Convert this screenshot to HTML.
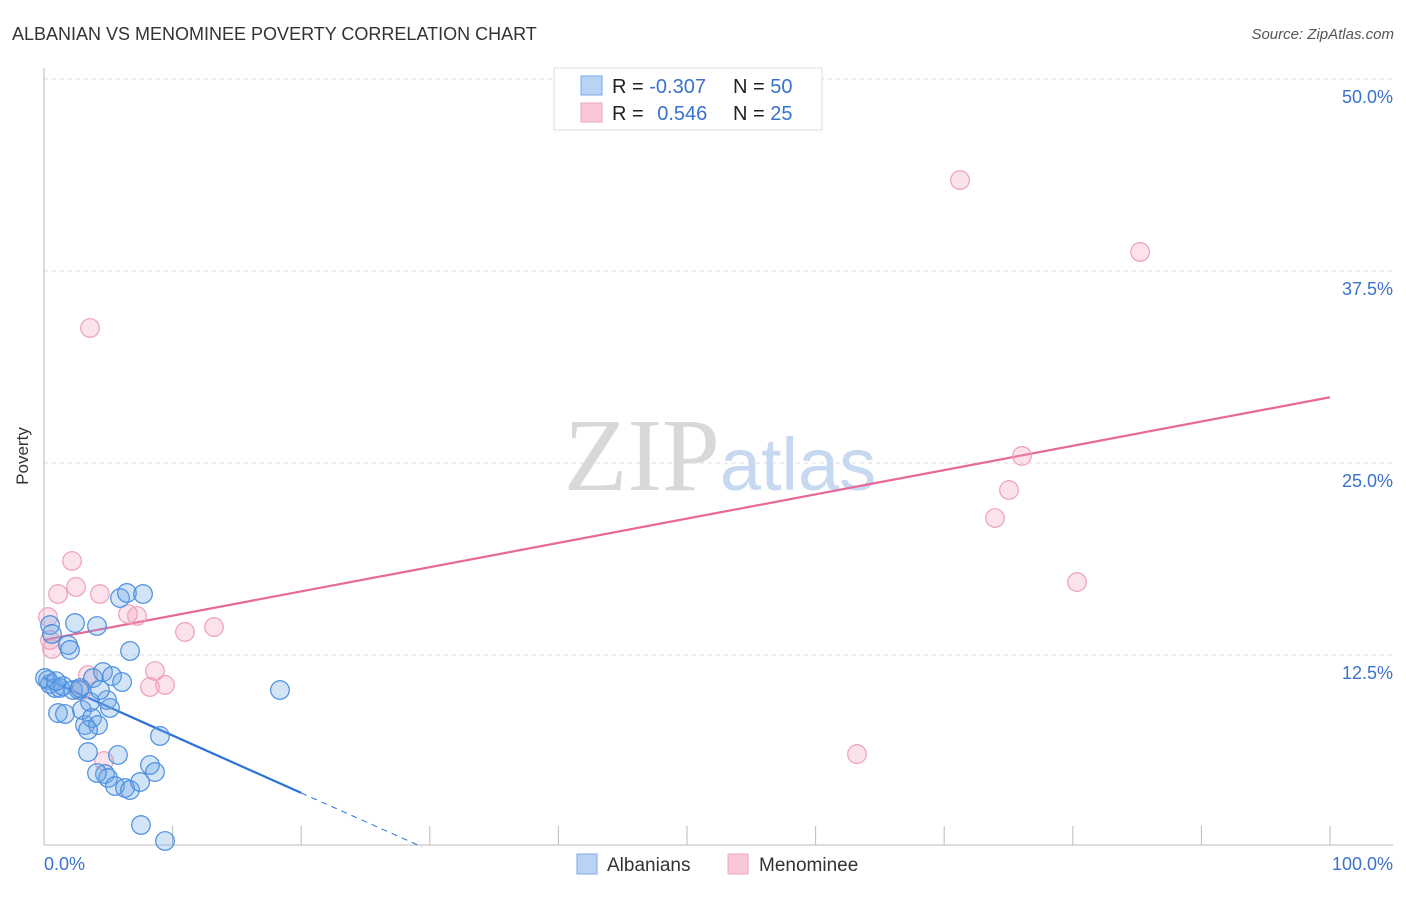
<!DOCTYPE html>
<html><head><meta charset="utf-8"><style>
body{margin:0;background:#fff;font-family:"Liberation Sans",sans-serif;}
svg text{font-family:"Liberation Sans",sans-serif;}
</style></head><body>
<svg width="1406" height="892" xmlns="http://www.w3.org/2000/svg" id="chart">
<text x="12" y="40" font-size="18" fill="#333">ALBANIAN VS MENOMINEE POVERTY CORRELATION CHART</text>
<text x="1394" y="39" font-size="15" fill="#555" font-style="italic" text-anchor="end">Source: ZipAtlas.com</text>
<text x="28" y="456" font-size="17" fill="#333" transform="rotate(-90 28 456)" text-anchor="middle">Poverty</text>
<g id="grid"></g>
<g id="axes"></g>
<text x="720" y="490" font-size="104" fill="#ddd" text-anchor="middle" font-family="Liberation Serif"><tspan fill="#d8d8d8" font-family="Liberation Serif">ZIP</tspan><tspan fill="#c6d9f0" font-size="74" font-family="Liberation Sans">atlas</tspan></text>
<g id="lines"></g>
<g id="points"></g>
<g>
<rect x="554" y="68" width="268" height="62" fill="#fff" stroke="#ddd"/>
<rect x="581" y="76" width="21" height="19" fill="#b9d3f5" stroke="#7aaae8"/>
<rect x="581" y="103" width="21" height="19" fill="#f9c7d6" stroke="#eea5bd"/>
<text x="612" y="93" font-size="20" fill="#222">R = <tspan fill="#3a72cc">-0.307</tspan></text>
<text x="733" y="93" font-size="20" fill="#222">N = <tspan fill="#3a72cc">50</tspan></text>
<text x="612" y="120" font-size="20" fill="#222">R = <tspan fill="#3a72cc" dx="8">0.546</tspan></text>
<text x="733" y="120" font-size="20" fill="#222">N = <tspan fill="#3a72cc">25</tspan></text>
</g>
<g>
<rect x="577" y="854" width="20" height="20" fill="#b9d3f5" stroke="#7aaae8"/>
<text x="607" y="871" font-size="19" fill="#333">Albanians</text>
<rect x="728" y="854" width="20" height="20" fill="#f9c7d6" stroke="#eea5bd"/>
<text x="759" y="871" font-size="19" fill="#333">Menominee</text>
</g>
</svg>
<script>
const yTicks=[12.5,25,37.5,50];
const yTickLabels=["12.5%","25.0%","37.5%","50.0%"];
const xTicks=[0,10,20,30,40,50,60,70,80,90,100];
const blueX=[0.47,0.62,0.31,0.86,0.47,1.24,1.09,1.63,1.48,1.87,2.02,2.41,2.26,2.72,2.95,3.19,3.58,3.81,3.73,4.12,4.2,4.59,4.74,4.98,5.29,4.9,5.13,5.52,5.75,5.91,6.07,6.3,6.45,6.69,6.69,7.47,7.7,8.24,8.63,9.02,7.54,9.41,18.35,3.42,4.12,2.8,4.35,3.42,0.08,0.93];
const blueY=[14.45,13.87,10.87,10.35,10.61,10.35,8.72,8.66,10.48,13.15,12.83,14.58,10.22,10.22,8.92,7.94,9.44,11.0,8.4,14.39,7.94,11.39,4.75,4.49,11.13,9.57,9.05,3.97,5.99,16.21,10.74,3.84,16.54,12.76,3.71,4.23,16.47,5.34,4.88,7.23,1.43,0.39,10.22,6.18,4.82,10.35,10.22,7.62,11.0,10.8];
const pinkX=[3.58,2.18,1.09,2.49,4.35,0.31,6.53,7.23,10.96,13.22,0.62,3.42,2.95,8.63,8.24,9.41,4.67,71.23,85.23,76.05,75.04,73.95,80.33,63.22,0.47];
const pinkY=[33.79,18.62,16.47,16.93,16.47,14.97,15.17,15.04,14.0,14.32,12.89,11.2,10.22,11.46,10.42,10.55,5.6,43.42,38.74,25.46,23.24,21.42,17.25,6.05,13.48];
const blueTrend=[11.0,-0.374,20];
const pinkTrend=[13.48,0.158];
const NS="http://www.w3.org/2000/svg";
const sx=v=>44+v*12.86, sy=v=>847-v*15.36;
function mk(t,a,p){const e=document.createElementNS(NS,t);for(const k in a)e.setAttribute(k,a[k]);p.appendChild(e);return e;}
const grid=document.getElementById('grid'),axes=document.getElementById('axes'),lines=document.getElementById('lines'),pts=document.getElementById('points');
yTicks.forEach((t,i)=>{
 const l=mk('line',{x1:44,x2:1393,y1:sy(t),y2:sy(t),stroke:'#ddd','stroke-dasharray':'4,4'},grid);
 
 
 const tx=mk('text',{x:1393,y:sy(t)+24,'font-size':18,fill:'#3a72cc','text-anchor':'end'},axes);
 tx.textContent=yTickLabels[i];
 
 
});
mk('line',{x1:44,x2:44,y1:68,y2:845,stroke:'#bbb'},axes);
mk('line',{x1:44,x2:1393,y1:845,y2:845,stroke:'#bbb'},axes);
xTicks.forEach(t=>{
 const l=mk('line',{x1:sx(t),x2:sx(t),y1:826,y2:845,stroke:'#bbb'},axes);
 
 
});
const x0=mk('text',{x:44,y:870,'font-size':18,fill:'#3a72cc'},axes);x0.textContent='0.0%';


const x1=mk('text',{x:1393,y:870,'font-size':18,fill:'#3a72cc','text-anchor':'end'},axes);x1.textContent='100.0%';


function addPts(X,Y,fill,stroke,name){X.forEach((x,i)=>{const c=mk('circle',{cx:sx(x),cy:sy(Y[i]),r:9.3,fill:fill,stroke:stroke,'stroke-width':1.2},pts);
 
 });}
addPts(pinkX,pinkY,'rgba(244,160,188,0.3)','#eea0b8','menominee-point');
addPts(blueX,blueY,'rgba(110,165,230,0.3)','#4a8ee0','albanian-point');
const bEnd=blueTrend[2], bZero=-blueTrend[0]/blueTrend[1];
const bl=mk('line',{x1:sx(0),y1:sy(blueTrend[0]),x2:sx(bEnd),y2:sy(blueTrend[0]+blueTrend[1]*bEnd),stroke:'#2a72d8','stroke-width':2.2},lines);


const bd=mk('line',{x1:sx(bEnd),y1:sy(blueTrend[0]+blueTrend[1]*bEnd),x2:sx(bZero),y2:sy(0),stroke:'#2a72d8','stroke-width':1,'stroke-dasharray':'6,5'},lines);


const pl=mk('line',{x1:sx(0),y1:sy(pinkTrend[0]),x2:sx(100),y2:sy(pinkTrend[0]+pinkTrend[1]*100),stroke:'#e8689a','stroke-width':2.2},lines);


</script>
</body></html>
